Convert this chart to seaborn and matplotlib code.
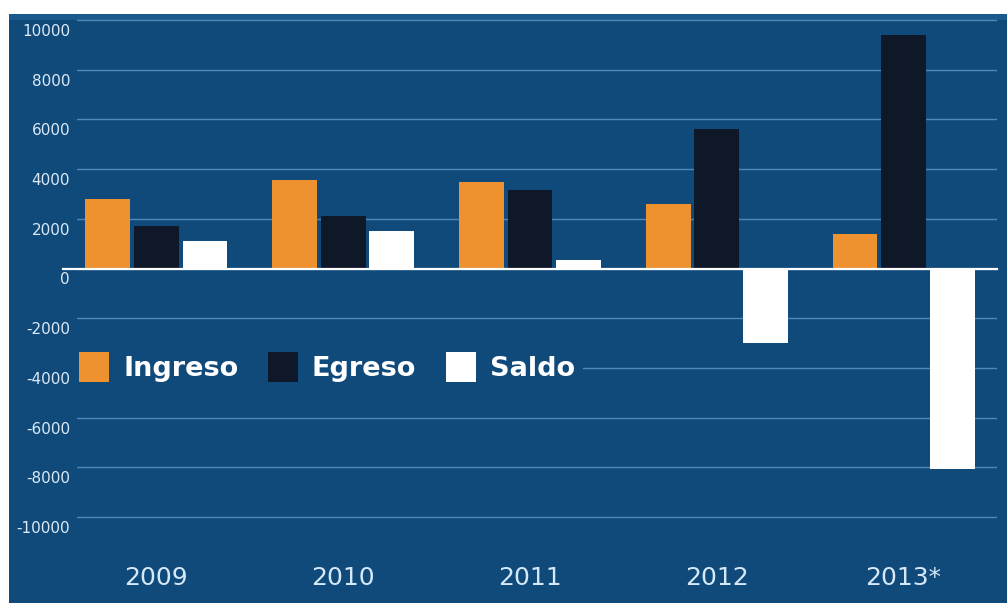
import matplotlib
matplotlib.use("Agg")
import matplotlib.pyplot as plt
import matplotlib.transforms as mtransforms
from matplotlib.patches import Rectangle
import seaborn as sns
import pandas as pd

years = ["2009", "2010", "2011", "2012", "2013*"]
ingreso = [2800, 3550, 3500, 2600, 1400]
egreso = [1700, 2100, 3150, 5600, 9400]
saldo = [1100, 1500, 350, -3000, -8050]
series = ["Ingreso", "Egreso", "Saldo"]
yticks = list(range(-10000, 10001, 2000))

BG = "#0f4a7b"
colors = {"Ingreso": "#ee9230", "Egreso": "#0e1828", "Saldo": "#ffffff"}

df = pd.DataFrame({
    "year": years * 3,
    "value": ingreso + egreso + saldo,
    "serie": [s for s in series for _ in years],
})

fig = plt.figure(figsize=(10.07, 6.03), dpi=100)
fig.patch.set_facecolor("white")
fig.patches.append(Rectangle((9 / 1007, 0), 1, 1 - 14 / 603, transform=fig.transFigure,
                             facecolor=BG, edgecolor="none", zorder=-10))
fig.patches.append(Rectangle((9 / 1007, 1 - 20 / 603), 1, 6 / 603, transform=fig.transFigure,
                             facecolor="#1b5a8c", edgecolor="none", zorder=-9))
ax = fig.add_axes([77 / 1007, 1 - 522 / 603, 920 / 1007, 507 / 603])
ax.set_zorder(1)
ax.set_facecolor("none")

sns.barplot(data=df, x="year", y="value", hue="serie", order=years, hue_order=series,
            palette=colors, width=0.78, gap=0.08, saturation=1, edgecolor="none",
            ax=ax)

ax.set_ylim(-10200, 10200)
ax.set_xlim(-0.425, 4.5)
ax.set_yticks(yticks)
ax.set_yticklabels([str(v) for v in yticks])
ax.grid(axis="y", color="#5088bb", lw=1)
ax.grid(axis="x", visible=False)
ax.set_axisbelow(True)
for s in ax.spines.values():
    s.set_visible(False)
ax.axhline(0, xmin=-0.015, xmax=1, color="white", lw=1.6, clip_on=False, zorder=3)

ax.tick_params(axis="y", length=0, pad=5, labelsize=11, labelcolor="#dce9f5")
ax.tick_params(axis="x", length=0, pad=32, labelsize=18, labelcolor="#d5e8f8")
ax.set_xlabel("")
ax.set_ylabel("")
offset = mtransforms.ScaledTranslation(0, -0.10, fig.dpi_scale_trans)
for lab in ax.get_yticklabels():
    lab.set_transform(lab.get_transform() + offset)

handles, labels = ax.get_legend_handles_labels()
leg = ax.legend(handles, labels, ncol=3, loc="center left",
                bbox_to_anchor=(71 / 1007, 1 - 367 / 603), bbox_transform=fig.transFigure,
                prop={"size": 19.5, "weight": "bold"}, frameon=True, facecolor=BG,
                edgecolor="none", framealpha=1, fancybox=False, borderpad=0.3,
                handlelength=1.1, handleheight=1.33, handletextpad=0.52,
                columnspacing=1.1, borderaxespad=0)
for t in leg.get_texts():
    t.set_color("white")

fig.savefig("out.png", dpi=100, facecolor=fig.get_facecolor())
